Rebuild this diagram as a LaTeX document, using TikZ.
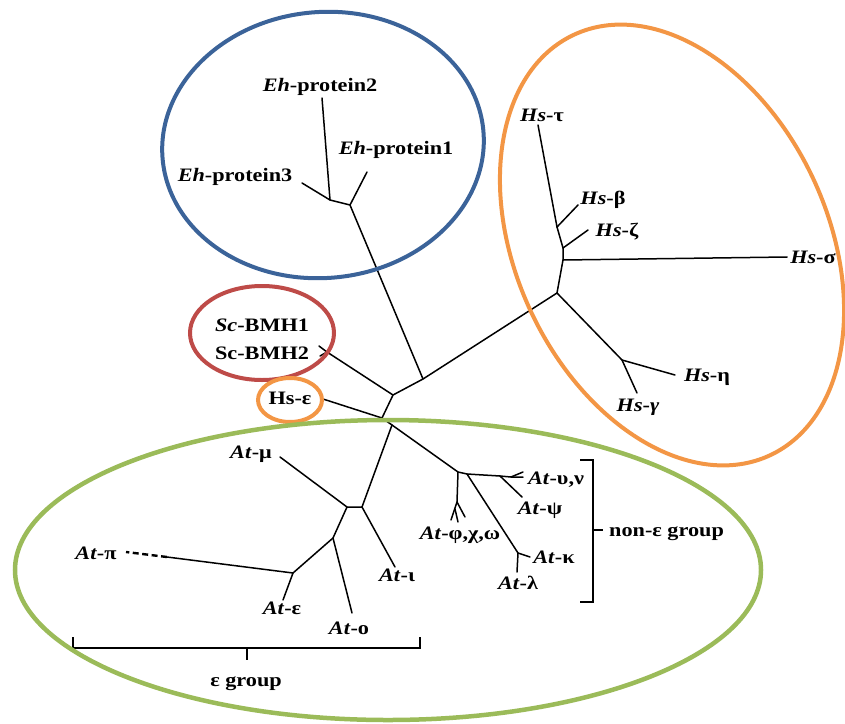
\documentclass[tikz,border=0pt]{standalone}
\usepackage{fontspec}
\setmainfont{Liberation Serif}[FakeStretch=1.17]
\definecolor{cblue}{HTML}{3B6399}
\definecolor{corange}{HTML}{F39645}
\definecolor{cred}{HTML}{BE4B48}
\definecolor{cgreen}{HTML}{9BBB59}
\begin{document}
\begin{tikzpicture}[x=1pt,y=-1pt,
  br/.style={line width=1.5pt, black, line cap=round, line join=round},
  brk/.style={line width=1.8pt, black},
  ring/.style={line width=4pt},
  lab/.style={font=\bfseries\fontsize{19}{21}\selectfont, inner sep=0pt, text height=12.5pt, text depth=0pt}]
\clip (0,0) rectangle (845,723);
% ---- coordinates of tree ----
\coordinate (A) at (330,200);
\coordinate (B) at (350,205);
\coordinate (e2) at (322,98);
\coordinate (e3) at (302,183);
\coordinate (e1) at (367,172);
\coordinate (J2) at (423,379);
\coordinate (J1) at (393,395);
\coordinate (J4) at (382,418);
\coordinate (J4b) at (392,425);
\coordinate (sc) at (327,352);
\coordinate (scA) at (319,346);
\coordinate (scB) at (320,356);
\coordinate (hse) at (323,399);
\coordinate (J3) at (557,293);
\coordinate (Js) at (563,260);
\coordinate (Jz) at (563,248);
\coordinate (Jb) at (557,227);
\coordinate (tau) at (538,125);
\coordinate (sig) at (787,257);
\coordinate (zet) at (588,230);
\coordinate (bet) at (578,205);
\coordinate (J12) at (622,360);
\coordinate (eta) at (675,375);
\coordinate (gam) at (637,393);
\coordinate (J5) at (362,507);
\coordinate (J8) at (347,507);
\coordinate (iot) at (395,567);
\coordinate (mu) at (280,457);
\coordinate (J9) at (333,538);
\coordinate (omi) at (352,613);
\coordinate (J10) at (293,573);
\coordinate (pi) at (167,557);
\coordinate (pid) at (126,552);
\coordinate (eps) at (283,600);
\coordinate (J6) at (458,472);
\coordinate (J6b) at (467,474);
\coordinate (psj) at (500,476);
\coordinate (upj) at (511,477);
\coordinate (up) at (523,477);
\coordinate (upt) at (523,472);
\coordinate (psi) at (522,497);
\coordinate (kj) at (518,553);
\coordinate (kap) at (530,557);
\coordinate (lam) at (517,572);
\coordinate (J7) at (457,502);
\coordinate (J7b) at (455,509);
\coordinate (ph1) at (451,520);
\coordinate (ph2) at (458,522);
\coordinate (ph3) at (465,517);
% ---- tree ----
\draw[br] (e2) -- (A) -- (B) -- (e1);
\draw[br] (e3) -- (A);
\draw[br] (B) -- (J2) -- (J1) -- (sc);
\draw[br] (scA) -- (sc) -- (scB);
\draw[br] (J2) -- (J3) -- (Js) -- (Jz) -- (Jb) -- (tau);
\draw[br] (Js) -- (sig);
\draw[br] (Jz) -- (zet);
\draw[br] (Jb) -- (bet);
\draw[br] (J3) -- (J12) -- (eta);
\draw[br] (J12) -- (gam);
\draw[br] (J1) -- (J4) -- (hse);
\draw[br] (J4) -- (J4b);
\draw[br] (J4b) -- (J5) -- (J8) -- (mu);
\draw[br] (J5) -- (iot);
\draw[br] (J8) -- (J9) -- (omi);
\draw[br] (J9) -- (J10) -- (pi);
\draw[br] (J10) -- (eps);
\draw[black, line width=2.4pt, dash pattern=on 6pt off 3.5pt] (pi) -- (pid);
\draw[br] (J4b) -- (J6) -- (J6b) -- (psj) -- (upj) -- (up);
\draw[br] (upj) -- (upt);
\draw[br] (psj) -- (psi);
\draw[br] (J6b) -- (kj) -- (kap);
\draw[br] (kj) -- (lam);
\draw[br] (J6) -- (J7) -- (ph1);
\draw[br] (J7) -- (ph3);
\draw[br] (J7b) -- (ph2);
% ---- labels ----
\node[lab] (lEh2) at (320,85) {\textit{Eh}-protein2};
\node[lab] (lEh1) at (396,148) {\textit{Eh}-protein1};
\node[lab] (lEh3) at (235,175) {\textit{Eh}-protein3};
\node[lab] (lTau) at (542,115) {\textit{Hs}-τ};
\node[lab] (lBet) at (603,198) {\textit{Hs}-β};
\node[lab] (lZet) at (617,230) {\textit{Hs}-ζ};
\node[lab] (lSig) at (813,257) {\textit{Hs}-σ};
\node[lab] (lEta) at (707,375) {\textit{Hs}-η};
\node[lab] (lGam) at (638,405) {\textit{Hs}-\textit{γ}};
\node[lab] (lSc1) at (262,325) {\textit{Sc}-BMH1};
\node[lab] (lSc2) at (262,353) {Sc-BMH2};
\node[lab] (lHse) at (290,398) {Hs-ε};
\node[lab] (lMu) at (251,452) {\textit{At}-μ};
\node[lab] (lPi) at (96,553) {\textit{At}-π};
\node[lab] (lEps) at (282,608) {\textit{At}-ε};
\node[lab] (lOmi) at (349,628) {\textit{At}-o};
\node[lab] (lIot) at (397,575) {\textit{At}-ι};
\node[lab] (lUp) at (556,478) {\textit{At}-υ,ν};
\node[lab] (lPsi) at (540,508) {\textit{At}-ψ};
\node[lab] (lKap) at (554,557) {\textit{At}-κ};
\node[lab] (lLam) at (518,583) {\textit{At}-λ};
\node[lab] (lPhi) at (460,533) {\textit{At}-φ,χ,ω};
\node[lab, anchor=west] (lNon) at (609,530) {non-ε group};
\node[lab] (lEg) at (246,680) {ε group};
% ---- brackets ----
\draw[brk] (580,460) -- (593,460) -- (593,602) -- (580,602);
\draw[brk] (593,530) -- (603,530);
\draw[brk] (73,637) -- (73,648) -- (420,648) -- (420,637);
\draw[brk] (247,648) -- (247,660);
% ---- group ellipses ----
\draw[ring, cblue, rotate around={5:(323,145)}] (323,145) ellipse [x radius=161pt, y radius=133pt];
\draw[ring, corange, rotate around={25:(672,245)}] (672,245) ellipse [x radius=156pt, y radius=232pt];
\draw[ring, cred] (262,333) ellipse [x radius=72pt, y radius=47pt];
\draw[ring, corange] (290,400) ellipse [x radius=32pt, y radius=22pt];
\draw[ring, cgreen, line width=4.5pt] (388,570) ellipse [x radius=373pt, y radius=150pt];
\end{tikzpicture}
\end{document}
